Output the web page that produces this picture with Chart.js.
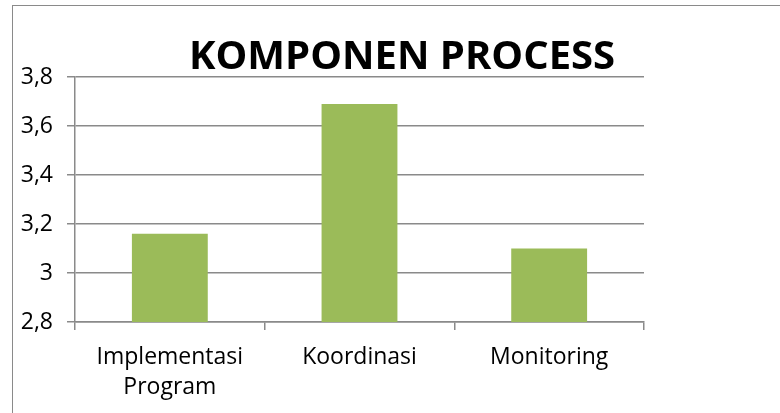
<!DOCTYPE html>
<html>
<head>
<meta charset="utf-8">
<script src="https://cdn.jsdelivr.net/npm/chart.js@4"></script>
<style>
  html, body { margin: 0; padding: 0; background: #fff; overflow: hidden; }
  #wrap { position: relative; width: 780px; height: 413px; }
  #frame { position: absolute; left: 12px; top: 5px; width: 800px; height: 450px; border: 1px solid #8a8a8a; box-sizing: border-box; }
  canvas { position: absolute; left: 0; top: 0; }
</style>
</head>
<body>
<div id="wrap">
  <div id="frame"></div>
  <canvas id="myChart" width="780" height="413"></canvas>
</div>
<script>
const chartTitle = "KOMPONEN PROCESS";
const categories = [["Implementasi", "Program"], "Koordinasi", "Monitoring"];
const values = [3.16, 3.69, 3.10];
const yTickLabels = ["2,8", "3", "3,2", "3,4", "3,6", "3,8"];

const FONT = "'Open Sans', 'Noto Sans', sans-serif";

// title drawn by hand so it can sit a bit right of the plot centre like the original
const titlePlugin = {
  id: "manualTitle",
  afterDraw(chart) {
    const ctx = chart.ctx;
    ctx.save();
    ctx.font = "bold 40px " + FONT;
    ctx.fillStyle = "#000";
    ctx.textAlign = "center";
    ctx.textBaseline = "alphabetic";
    ctx.fillText(chartTitle, 402, 69);
    ctx.restore();
  }
};

const myChartRef = document.getElementById("myChart").getContext("2d");
new Chart(myChartRef, {
  type: "bar",
  data: {
    labels: categories,
    datasets: [
      {
        label: chartTitle,
        data: values,
        backgroundColor: "#9bbb59",
        borderWidth: 0,
        barPercentage: 0.4,
        categoryPercentage: 1
      }
    ]
  },
  options: {
    responsive: false,
    animation: false,
    layout: { padding: { top: 77, left: 0, right: 136, bottom: 0 } },
    plugins: {
      legend: { display: false },
      title: { display: false },
      tooltip: { enabled: false }
    },
    scales: {
      x: {
        afterFit: s => { s.height = 91; },
        grid: {
          offset: true,
          drawOnChartArea: false,
          drawTicks: true,
          tickLength: 8,
          color: "#8a8a8a",
          lineWidth: 1.5
        },
        border: { display: true, color: "#8a8a8a", width: 1.5 },
        ticks: {
          color: "#000",
          padding: 13,
          font: { family: FONT, size: 23, lineHeight: 1.3 }
        }
      },
      y: {
        min: 2.8,
        max: 3.8,
        afterFit: s => { s.width = 75; },
        afterBuildTicks: s => { s.ticks = yTickLabels.map((t, i) => ({ value: 2.8 + i * 0.2 })); },
        grid: {
          drawTicks: true,
          tickLength: 8,
          color: "#8a8a8a",
          lineWidth: 1.5
        },
        border: { display: true, color: "#8a8a8a", width: 1.5 },
        ticks: {
          color: "#000",
          padding: 14,
          font: { family: FONT, size: 23 },
          callback: (v, i) => yTickLabels[i]
        }
      }
    }
  },
  plugins: [titlePlugin]
});
</script>
</body>
</html>
